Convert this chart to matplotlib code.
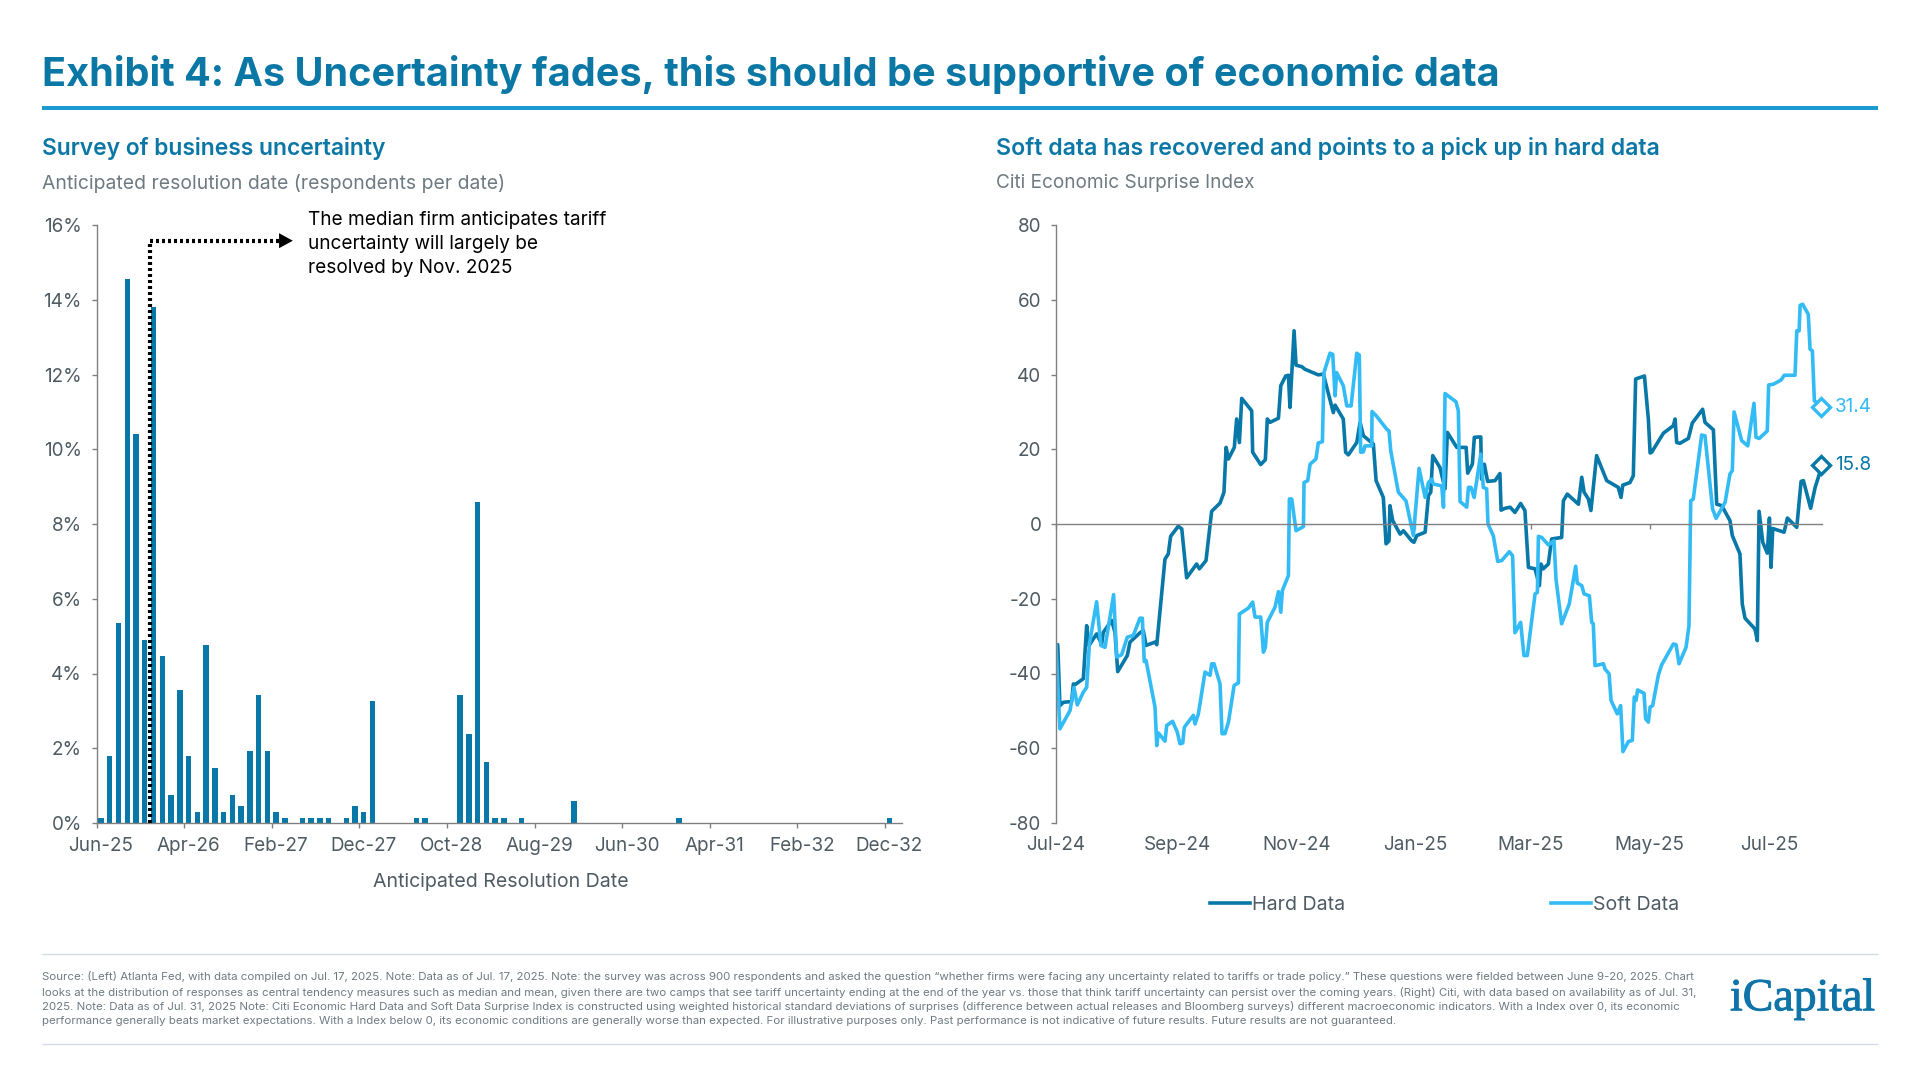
import datetime as dt
import matplotlib
matplotlib.use("Agg")
import matplotlib.pyplot as plt
import matplotlib.dates as mdates
import matplotlib.patheffects as pe

plt.rcParams['font.family'] = ['Inter', 'DejaVu Sans']
plt.rcParams['axes.unicode_minus'] = False

# ---------- data ----------
bar_labels = ['Jun-25', 'Apr-26', 'Feb-27', 'Dec-27', 'Oct-28', 'Aug-29', 'Jun-30', 'Apr-31', 'Feb-32', 'Dec-32']
bar_values = [0.13, 1.8, 5.36, 14.55, 10.4, 4.9, 13.8, 4.47, 0.75, 3.57,
              1.8, 0.3, 4.77, 1.47, 0.3, 0.75, 0.45, 1.93, 3.43, 1.93,
              0.3, 0.13, 0, 0.13, 0.13, 0.13, 0.13, 0, 0.13, 0.45,
              0.3, 3.27, 0, 0, 0, 0, 0.13, 0.13, 0, 0,
              0, 3.43, 2.38, 8.6, 1.63, 0.13, 0.13, 0, 0.13, 0,
              0, 0, 0, 0, 0.59, 0, 0, 0, 0, 0,
              0, 0, 0, 0, 0, 0, 0.13, 0, 0, 0,
              0, 0, 0, 0, 0, 0, 0, 0, 0, 0,
              0, 0, 0, 0, 0, 0, 0, 0, 0, 0,
              0.13, 0]

start_date = dt.date(2024, 7, 1)
hard_days = [0, 0.9, 2.0, 3.8, 8.0, 8.9, 9.7, 14.0, 15.7, 16.9, 20.8, 23.4, 24.2, 28.5, 30.2, 31.6, 36.5, 37.9,
             43.0, 44.7, 46.1, 50.7, 51.6, 55.8, 57.5, 58.7, 62.6, 64.4, 66.9, 72.0, 73.4, 76.8, 79.7, 84.0,
             86.0, 87.1, 88.3, 91.3, 92.5, 93.9, 95.1, 100.2, 100.7, 104.8, 107.2, 108.2, 109.6, 113.9, 115.1,
             117.6, 119.0, 119.8, 121.9, 122.9, 125.8, 127.5, 134.3, 136.9, 142.0, 142.9, 147.1, 148.3, 149.7,
             154.0, 155.7, 157.4, 162.5, 163.9, 167.6, 169.0, 170.5, 171.0, 172.4, 176.2, 177.9, 182.1, 183.3,
             184.7, 189.0, 190.7, 191.9, 192.9, 196.6, 199.2, 200.4, 205.2, 210.0, 210.8, 213.2, 214.2, 217.5,
             217.9, 219.3, 221.0, 224.8, 227.3, 227.9, 229.9, 232.5, 235.0, 237.9, 240.1, 241.9, 245.3, 247.5,
             248.3, 249.5, 252.1, 253.8, 258.9, 259.8, 261.8, 267.5, 269.2, 270.4, 272.6, 273.9, 276.8, 282.0,
             287.9, 289.3, 290.2, 293.9, 295.6, 296.8, 301.3, 303.3, 304.2, 305.0, 311.0, 316.1, 317.0, 317.8,
             319.5, 323.8, 325.8, 331.1, 332.3, 336.6, 338.3, 340.9, 345.1, 346.3, 350.2, 351.4, 352.8, 357.9,
             359.1, 360.0, 361.9, 364.2, 365.3, 366.1, 367.0, 372.8, 374.5, 379.3, 381.5, 382.7, 386.4, 388.7,
             390.9, 391.7]
hard_vals = [-32.5, -32.3, -48.6, -47.7, -47.5, -42.8, -43.0, -41.4, -27.2, -32.5, -29.4, -32.1, -29.0, -25.8, -29.0,
             -39.5, -35.2, -31.6, -29.1, -28.5, -32.5, -31.6, -32.3, -9.4, -8.0, -3.3, -0.6, -1.3, -14.4, -10.7,
             -12.0, -9.8, 3.4, 5.6, 8.5, 20.5, 17.4, 20.5, 28.1, 21.8, 33.6, 30.3, 19.2, 15.9, 17.2, 28.1, 27.2,
             28.3, 37.0, 39.6, 39.8, 31.2, 51.7, 42.5, 42.1, 41.4, 39.9, 40.1, 29.8, 31.8, 28.1, 19.2, 18.5, 21.8,
             27.2, 23.6, 21.4, 11.6, 7.1, -5.3, -4.5, 4.9, 0.9, -2.7, -1.8, -4.5, -4.9, -3.1, -2.2, 7.6, 8.5, 18.3,
             15.1, 9.4, 24.5, 20.5, 20.5, 13.6, 16.0, 23.2, 23.3,
             12.0, 16.0, 11.4, 11.6, 13.5, 3.7, 4.2, 4.5, 3.1, 5.5, 3.6, -11.6, -12.0, -16.5, -10.7, -12.0, -10.7,
             -4.0, -3.6, 6.2, 8.0, 5.3, 12.5, 8.5, 6.7, 3.6, 18.3, 11.6, 9.8, 7.1, 10.4, 11.1, 12.9, 38.8, 39.6,
             28.1, 19.0, 19.2, 24.3, 26.3, 28.1, 21.8, 21.6, 22.9, 27.0, 30.7, 27.2, 25.2, 5.3, 4.9, 0.9, -3.1,
             -8.0, -21.4, -25.2, -28.1, -31.2, 3.4, -4.9, -7.8, 1.6, -11.6, -1.2, -2.2, 1.6, -0.9, 11.4, 11.6, 4.2,
             9.8, 13.4, 15.8]

soft_days = [0, 2.0, 7.2, 9.2, 10.9, 14.0, 15.7, 17.1, 20.8, 23.0, 25.1, 29.5, 31.1, 33.6, 36.5, 39.6, 43.0, 44.2,
             45.2, 46.1, 50.7, 51.6, 52.4, 55.8, 56.7, 59.7, 62.1, 63.5, 64.9, 65.7, 70.3, 71.2, 72.9, 76.3, 78.9,
             79.7, 80.9, 84.0, 85.0, 86.5, 88.3, 91.2, 93.4, 93.9, 98.5, 100.7, 101.9, 104.8, 106.2, 107.2, 108.2,
             112.1, 113.9, 115.1, 115.9, 119.0, 119.5, 120.7, 122.9, 126.7, 127.0, 128.9, 130.1, 133.1, 134.3,
             136.4, 137.2, 140.3, 141.7, 142.9, 143.7, 147.1, 148.9, 151.1, 154.0, 155.3, 156.0, 157.4, 158.2,
             161.7, 161.8, 163.9, 169.3, 170.5, 171.4, 175.3, 179.2, 183.0, 185.9, 189.0, 190.7, 192.4, 193.2,
             195.8, 197.5, 198.4, 199.2, 204.8, 206.0, 206.9, 210.3, 211.2, 212.5, 214.1, 217.5,
             218.8, 220.5, 221.2, 223.9, 226.2, 228.2, 232.1, 233.8, 235.0, 237.9, 239.6, 241.3, 245.3, 246.5,
             247.0, 248.7, 252.1, 255.0, 256.0, 258.9, 262.8, 266.1, 266.9, 269.2, 270.4, 273.1, 274.3, 275.1,
             276.0, 280.3, 281.1, 283.2, 284.2, 287.4, 289.1, 290.3, 293.1, 295.1, 296.1, 297.0, 297.8, 301.1,
             301.9, 303.3, 304.2, 305.5, 308.4, 310.1, 316.1, 317.5, 319.0, 322.6, 324.1, 325.0, 326.3, 330.6,
             332.3, 336.2, 338.0, 342.6, 345.1, 346.3, 347.2, 351.1, 354.2, 357.4, 358.4, 360.1, 364.2, 364.9,
             367.3, 371.2, 372.9, 378.4, 379.3, 380.5, 381.0, 382.3, 385.2, 386.1, 387.3, 388.3, 391.7]
soft_vals = [-32.5, -54.8, -49.9, -43.7, -48.4, -45.0, -43.7, -32.1, -20.8, -32.5, -33.0, -18.9, -35.6, -35.0, -30.3,
             -29.8, -25.2, -25.2, -36.8, -36.5, -49.0, -59.3, -55.9, -58.1, -53.9, -52.8, -55.7, -58.8, -58.6, -54.4,
             -51.2, -53.5, -50.8, -39.6, -40.5, -37.4, -37.4, -42.8, -56.1, -56.1, -53.0, -43.2, -42.5, -24.1, -22.5,
             -20.9, -24.9, -24.9, -34.3, -33.0, -26.3, -22.3, -18.1, -23.6, -17.8, -13.8, 6.7, 6.7, -1.8, -0.7, 11.1,
             11.6, 16.0, 17.4, 21.7, 22.0, 40.5, 45.7, 45.4, 34.3, 40.5, 37.0, 31.6, 31.6, 45.7, 45.2, 19.2, 19.3,
             20.9, 20.9, 30.1, 29.0, 25.4, 24.9, 19.6, 8.5, 6.2, -3.1, 14.9, 7.1, 11.1, 12.0, 10.7, 10.4, 10.2, 4.5,
             34.9, 32.7, 30.3, 6.0, 4.5, 9.8, 9.8, 7.1, 18.7,
             9.8, 9.4, 0, -3.1, -10.0, -9.8, -7.4, -8.5, -29.1, -26.3, -35.2, -35.2, -18.7, -18.3, -3.3, -3.6, -5.6,
             -4.5, -14.7, -26.7, -21.4, -11.3, -15.8, -16.5, -18.7, -19.2, -26.3, -26.7, -37.9, -37.4, -38.8, -40.1,
             -47.2, -50.8, -48.6, -60.9, -58.2, -57.9, -46.3, -47.2, -44.4, -45.3, -52.1, -53.0, -49.0, -48.6, -40.5,
             -37.7, -32.1, -32.3, -37.4, -33.0, -27.2, 6.2, 6.7, 23.8, 23.6, 4.0, 1.5, 5.8, 13.4, 14.3, 30.0, 22.3,
             20.9, 32.3, 23.2, 22.9, 24.9, 37.2, 37.4, 38.5, 39.8, 39.8, 51.7, 51.7, 58.5, 58.8, 56.1, 46.8, 46.3,
             33.0, 31.4]

line_tick_dates = [dt.date(2024, 7, 1), dt.date(2024, 9, 1), dt.date(2024, 11, 1), dt.date(2025, 1, 1),
                   dt.date(2025, 3, 1), dt.date(2025, 5, 1), dt.date(2025, 7, 1)]

footnote = [
    "Source: (Left) Atlanta Fed, with data compiled on Jul. 17, 2025. Note: Data as of Jul. 17, 2025. Note: the survey was across 900 respondents and asked the question \u201cwhether firms were facing any uncertainty related to tariffs or trade policy.\u201d These questions were fielded between June 9-20, 2025. Chart",
    "looks at the distribution of responses as central tendency measures such as median and mean, given there are two camps that see tariff uncertainty ending at the end of the year vs. those that think tariff uncertainty can persist over the coming years. (Right) Citi, with data based on availability as of Jul. 31,",
    "2025. Note: Data as of Jul. 31, 2025 Note: Citi Economic Hard Data and Soft Data Surprise Index is constructed using weighted historical standard deviations of surprises (difference between actual releases and Bloomberg surveys) different macroeconomic indicators. With a Index over 0, its economic",
    "performance generally beats market expectations. With a Index below 0, its economic conditions are generally worse than expected. For illustrative purposes only. Past performance is not indicative of future results. Future results are not guaranteed.",
]

# ---------- style ----------
W, H = 1920, 1080
TITLE = '#0A77A5'
RULE = '#1B9AD0'
HARD = '#0878A8'
SOFT = '#33BBF5'
TICK = '#4F5B63'
SUB = '#6E7A82'
AXIS = '#808080'
FOOT = '#6E7A82'
FS = 13.6
FS_LABEL = 14.1

fig = plt.figure(figsize=(W / 100, H / 100), dpi=100, facecolor='white')


def fx(x):
    return x / W


def fy(y):
    return 1 - y / H


def axes_px(x0, y0, x1, y1):
    return fig.add_axes([fx(x0), fy(y1), (x1 - x0) / W, (y1 - y0) / H])


def text(x, y, s, **kw):
    kw.setdefault('va', 'center')
    return fig.text(fx(x), fy(y), s, **kw)


def hline(y, x0, x1, color, lw):
    fig.add_artist(plt.Line2D([fx(x0), fx(x1)], [fy(y), fy(y)], color=color, lw=lw, solid_capstyle='butt'))


# header
text(42, 74, "Exhibit 4: As Uncertainty fades, this should be supportive of economic data",
     fontsize=28.5, fontweight='bold', color=TITLE)
hline(108, 42, 1878, RULE, 2.9)
text(42, 149, "Survey of business uncertainty", fontsize=16.45, fontweight='semibold', color=TITLE)
text(42, 183, "Anticipated resolution date (respondents per date)", fontsize=13.95, color=SUB)
text(996, 149, "Soft data has recovered and points to a pick up in hard data", fontsize=16.68, fontweight='semibold', color=TITLE)
text(996, 183.5, "Citi Economic Surprise Index", fontsize=13.7, color=SUB)

# left chart
ax1 = axes_px(96.6, 225, 902.5, 823)
pos = list(range(len(bar_values)))
ax1.bar(pos, bar_values, width=0.62, color=HARD, linewidth=0)
ax1.set_xlim(-0.5, len(bar_values) - 0.5)
ax1.set_ylim(0, 16)
ax1.set_yticks(range(0, 17, 2))
ax1.set_yticklabels([f'{v}%' for v in range(0, 17, 2)])
label_pos = [10 * i for i in range(len(bar_labels))]
ax1.set_xticks([p - 0.5 for p in label_pos])
ax1.set_xticklabels(['' for _ in label_pos])
for p, lab in zip(label_pos, bar_labels):
    ax1.annotate(lab, (p, 0), xytext=(0, -10.2), textcoords='offset points', ha='center', va='top',
                 fontsize=FS, color=TICK, annotation_clip=False)
ax1.tick_params(axis='y', length=3.6, width=1, color=AXIS, labelsize=FS, labelcolor=TICK, pad=7)
ax1.tick_params(axis='x', length=3.6, width=1, color=AXIS)
for s in ('top', 'right'):
    ax1.spines[s].set_visible(False)
for s in ('left', 'bottom'):
    ax1.spines[s].set_color(AXIS)
    ax1.spines[s].set_linewidth(1)
text(501, 882, "Anticipated Resolution Date", fontsize=FS_LABEL, color=TICK, ha='center')

# median marker
median_x, median_top, arrow_end = 5.6, 15.58, 21.1
ax1.plot([median_x, median_x, arrow_end], [0, median_top, median_top], color='black', lw=3.0,
         linestyle=(0, (0.72, 0.72)), solid_capstyle='butt', zorder=5)
ax1.annotate('', xy=(arrow_end + 0.8, median_top), xytext=(arrow_end - 0.7, median_top),
             arrowprops=dict(arrowstyle='-|>,head_length=0.55,head_width=0.3', color='black', lw=0,
                             shrinkA=0, shrinkB=0, mutation_scale=18), zorder=6)
for y, s in zip((220, 244, 268), ("The median firm anticipates tariff", "uncertainty will largely be", "resolved by Nov. 2025")):
    text(307.5, y, s, fontsize=13.7, color='black')

# right chart
base = mdates.date2num(start_date)
ax2 = axes_px(1056, 225, 1056 + 392 * 1.953, 823)
hard_line, = ax2.plot([base + d for d in hard_days], hard_vals, color=HARD, lw=2.6, solid_joinstyle='round', label='Hard Data')
soft_line, = ax2.plot([base + d for d in soft_days], soft_vals, color=SOFT, lw=2.6, solid_joinstyle='round', label='Soft Data')
for days, vals, col in ((hard_days, hard_vals, HARD), (soft_days, soft_vals, SOFT)):
    ax2.plot([base + days[-1]], [vals[-1]], marker='D', ms=9.6, mfc='white', mec=col, mew=2.4, clip_on=False, zorder=6)
    ax2.annotate(f'{vals[-1]:.1f}', (base + days[-1], vals[-1]), xytext=(10, 0), textcoords='offset points',
                 fontsize=FS, color=col, va='center', annotation_clip=False)
ax2.set_xlim(base, base + 392)
ax2.set_ylim(-80, 80)
ax2.set_yticks(range(-80, 81, 20))
ax2.set_xticks([mdates.date2num(d) for d in line_tick_dates])
ax2.xaxis.set_major_formatter(mdates.DateFormatter('%b-%y'))
ax2.spines['bottom'].set_position(('data', 0))
ax2.tick_params(axis='x', length=3.6, width=1, color=AXIS, labelsize=FS, labelcolor=TICK, pad=221)
ax2.tick_params(axis='y', length=3.6, width=1, color=AXIS, labelsize=FS, labelcolor=TICK, pad=7)
for s in ('top', 'right'):
    ax2.spines[s].set_visible(False)
for s in ('left', 'bottom'):
    ax2.spines[s].set_color(AXIS)
    ax2.spines[s].set_linewidth(1)
ax2.set_facecolor('none')
ax2.legend(handles=[hard_line, soft_line], ncol=2, frameon=False, loc='upper left',
           bbox_to_anchor=(fx(1210), fy(896)), bbox_transform=fig.transFigure,
           fontsize=FS_LABEL, handlelength=2.05, handletextpad=0.1, columnspacing=10.5,
           borderpad=0, borderaxespad=0, labelcolor=TICK)

# footer
hline(954, 42, 1878, '#D5DDE2', 1)
hline(1044, 42, 1878, '#D5DDE2', 1)
for y, s in zip((977, 992, 1006.5, 1021), footnote):
    text(42, y, s, fontsize=8.28, color=FOOT)
logo = text(1730, 999, "iCapital", fontsize=33, color='#0F74A8', family='Liberation Serif')
logo.set_path_effects([pe.withStroke(linewidth=0.7, foreground='#0F74A8')])

fig.savefig('out.png', dpi=100, facecolor='white')
